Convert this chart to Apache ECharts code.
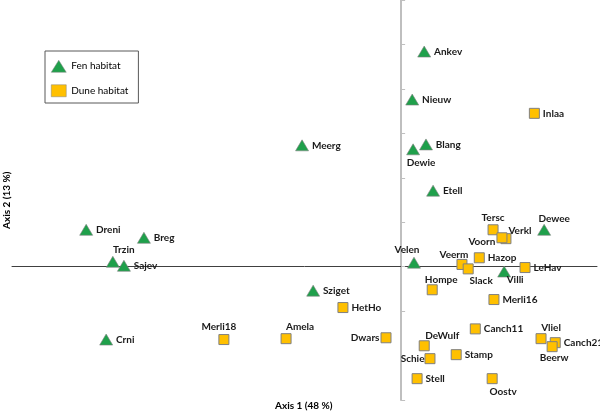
<!DOCTYPE html>
<html>
<head>
<meta charset="utf-8">
<script src="https://cdn.jsdelivr.net/npm/echarts@6/dist/echarts.min.js"></script>
<style>
  html, body { margin: 0; padding: 0; background: #fff; }
  #chart { width: 600px; height: 413px; }
</style>
</head>
<body>
<div id="chart"></div>
<script>
// site scores on the first two ordination axes
var fenNames = ['Ankev', 'Nieuw', 'Meerg', 'Blang', 'Dewie', 'Etell', 'Dewee', 'Velen', 'Villi', 'Sziget', 'Dreni', 'Breg', 'Trzin', 'Sajev', 'Crni'];
var fenAxis1 = [0.52, 0.25, -2.23, 0.56, 0.27, 0.72, 3.22, 0.29, 2.32, -1.98, -7.09, -5.79, -6.49, -6.24, -6.64];
var fenAxis2 = [4.84, 3.76, 2.73, 2.75, 2.64, 1.71, 0.83, 0.09, -0.11, -0.54, 0.83, 0.65, 0.11, 0.02, -1.64];

var duneNames = ['Inlaa', 'Tersc', 'Verkl', 'Voorn', 'Veerm', 'Hazop', 'Slack', 'LeHav', 'Hompe', 'Merli16', 'HetHo', 'Canch11', 'Vliel', 'Canch21', 'Beerw', 'Dwars', 'DeWulf', 'Schie', 'Stamp', 'Stell', 'Oostv', 'Merli18', 'Amela'];
var duneAxis1 = [3.00, 2.07, 2.36, 2.27, 1.37, 1.76, 1.51, 2.79, 0.70, 2.09, -1.31, 1.67, 3.15, 3.47, 3.40, -0.34, 0.52, 0.65, 1.24, 0.36, 2.05, -3.99, -2.59];
var duneAxis2 = [3.45, 0.83, 0.63, 0.65, 0.05, 0.20, -0.05, -0.02, -0.52, -0.74, -0.92, -1.40, -1.62, -1.71, -1.80, -1.60, -1.78, -2.07, -1.98, -2.52, -2.52, -1.64, -1.62];

// label placement relative to marker: [position, dx, dy] (default right)
var labelPlace = {
  Dewie: ['bottom', 8, 0],
  Tersc: ['top', 0, 2],
  Dewee: ['top', 10, 3],
  Velen: ['top', -7, 1],
  Veerm: ['top', -8, 4],
  Verkl: ['right', -6, -8],
  Voorn: ['left', 2, 4],
  Slack: ['bottom', 13, -2],
  Villi: ['bottom', 11, -6],
  Hompe: ['top', 9, 4],
  Vliel: ['top', 10, 3],
  Beerw: ['bottom', 2, -2],
  DeWulf: ['top', 18, 4],
  Schie: ['left', 3, 0],
  Dwars: ['left', 2, 0],
  Oostv: ['bottom', 11, 0],
  Merli18: ['top', -5, 1],
  Amela: ['top', 14, 2],
  Trzin: ['top', 11, 2]
};

function points(names, xs, ys) {
  return names.map(function (n, i) {
    var p = labelPlace[n] || ['right', 0, 0];
    return {
      name: n,
      value: [xs[i], ys[i]],
      label: { position: p[0], offset: [p[1], p[2]] }
    };
  });
}

var labelStyle = {
  show: true,
  formatter: '{b}',
  fontFamily: 'Lato',
  fontWeight: 'bold',
  fontSize: 10,
  color: '#1a1a1a',
  distance: 3
};

var chart = echarts.init(document.getElementById('chart'));
chart.setOption({
  animation: false,
  grid: { left: 12, right: 3, top: 0, bottom: 13 },
  legend: {
    orient: 'vertical',
    left: 45,
    top: 51,
    padding: [9, 10, 6, 6],
    itemGap: 12,
    itemWidth: 15,
    itemHeight: 12,
    borderColor: '#595959',
    borderWidth: 1,
    itemStyle: { borderColor: '#808080', borderWidth: 0.5 },
    textStyle: { fontFamily: 'Lato', fontSize: 10, color: '#000' },
    data: ['Fen habitat', 'Dune habitat']
  },
  xAxis: {
    type: 'value',
    min: -8.76,
    max: 4.41,
    axisLine: { onZero: true, lineStyle: { color: '#404040', width: 1 } },
    axisTick: { show: false },
    axisLabel: { show: false },
    splitLine: { show: false }
  },
  yAxis: {
    type: 'value',
    min: -3,
    max: 6,
    interval: 1,
    axisLine: { onZero: true, lineStyle: { color: '#bfbfbf', width: 2 } },
    axisTick: { show: true, inside: true, length: 4, lineStyle: { color: '#bfbfbf', width: 1 } },
    axisLabel: { show: false },
    splitLine: { show: false }
  },
  graphic: [
    {
      type: 'text', left: 275, top: 401,
      style: { text: 'Axis 1 (48 %)', fontFamily: 'Lato', fontWeight: 'bold', fontSize: 10, fill: '#000' }
    },
    {
      type: 'text', x: 2, y: 229, rotation: Math.PI / 2,
      style: { text: 'Axis 2 (13 %)', fontFamily: 'Lato', fontWeight: 'bold', fontSize: 10, fill: '#000' }
    }
  ],
  series: [
    {
      name: 'Fen habitat',
      type: 'scatter',
      symbol: 'triangle',
      symbolSize: [13, 11],
      clip: false,
      itemStyle: { color: '#1fa04b', borderColor: '#808080', borderWidth: 0.6, opacity: 1 },
      label: labelStyle,
      data: points(fenNames, fenAxis1, fenAxis2)
    },
    {
      name: 'Dune habitat',
      type: 'scatter',
      symbol: 'rect',
      symbolSize: 10,
      clip: false,
      itemStyle: { color: '#ffc000', borderColor: '#808080', borderWidth: 1, opacity: 1 },
      label: labelStyle,
      data: points(duneNames, duneAxis1, duneAxis2)
    }
  ]
});
</script>
</body>
</html>
